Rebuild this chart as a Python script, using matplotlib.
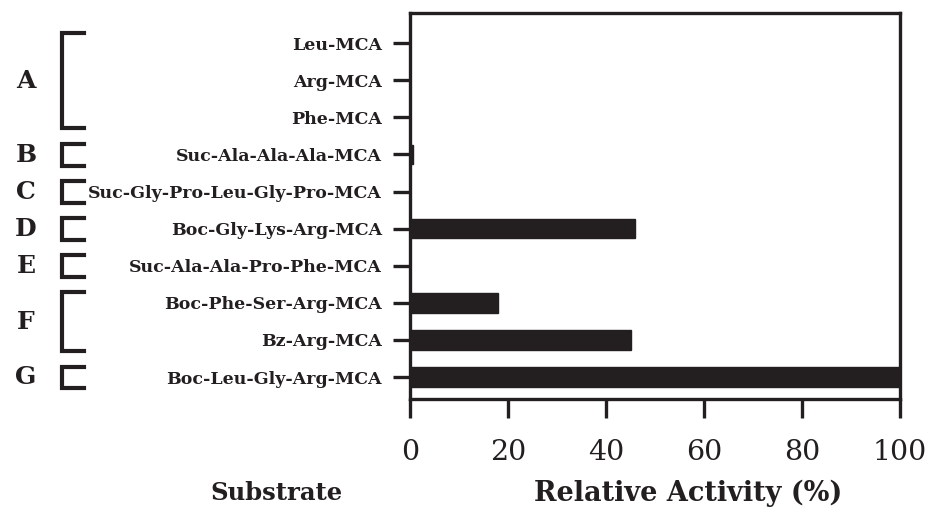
import matplotlib
matplotlib.use("Agg")
import matplotlib.pyplot as plt
import matplotlib.transforms as mtransforms

substrates = ["Leu-MCA", "Arg-MCA", "Phe-MCA", "Suc-Ala-Ala-Ala-MCA",
              "Suc-Gly-Pro-Leu-Gly-Pro-MCA", "Boc-Gly-Lys-Arg-MCA",
              "Suc-Ala-Ala-Pro-Phe-MCA", "Boc-Phe-Ser-Arg-MCA",
              "Bz-Arg-MCA", "Boc-Leu-Gly-Arg-MCA"]
activity = [0, 0, 0, 0.7, 0, 46, 0, 18, 45, 100]
group_names = ["A", "B", "C", "D", "E", "F", "G"]
group_first = [0, 3, 4, 5, 6, 7, 9]
group_last = [2, 3, 4, 5, 6, 8, 9]
xticks = [0, 20, 40, 60, 80, 100]

plt.rcParams['font.family'] = ['DejaVu Serif']
ink = "#231f20"

fig = plt.figure(figsize=(9.4, 5.11), dpi=100)
ax = fig.add_axes([410/940, 1-399/511, 490/940, 386/511])

ypos = list(range(len(substrates)))
ax.barh(ypos, activity, height=0.52, color=ink, edgecolor=ink)
ax.set_xlim(0, 100)
ax.set_ylim(9.59, -0.81)
ax.set_yticks(ypos)
ax.set_yticklabels(substrates, fontsize=12.5, fontweight='bold', color=ink)
ax.set_xticks(xticks)
ax.set_xticklabels([str(v) for v in xticks], fontsize=20.5, color=ink)
for s in ax.spines.values():
    s.set_linewidth(2.4)
    s.set_color(ink)
ax.tick_params(axis='y', length=12, width=2.4, pad=8, color=ink)
ax.tick_params(axis='x', length=14, width=2.4, pad=15, color=ink)

fig.text(688/940, 1-493/511, "Relative Activity (%)", fontsize=19.5,
         fontweight='bold', ha='center', va='center', color=ink)
fig.text(276/940, 1-493/511, "Substrate", fontsize=17.5,
         fontweight='bold', ha='center', va='center', color=ink)

trans = mtransforms.blended_transform_factory(fig.transFigure, ax.transData)
xv = 62/940
xa = 84/940
for name, f, l in zip(group_names, group_first, group_last):
    top = f - 0.28
    bot = l + 0.3
    ax.plot([xa, xv, xv, xa], [top, top, bot, bot], transform=trans,
            color=ink, lw=3, clip_on=False, solid_joinstyle='miter')
    ax.text(26/940, (top + bot) / 2, name, transform=trans, fontsize=18,
            fontweight='bold', ha='center', va='center', color=ink)

fig.savefig("out.png", dpi=100)
